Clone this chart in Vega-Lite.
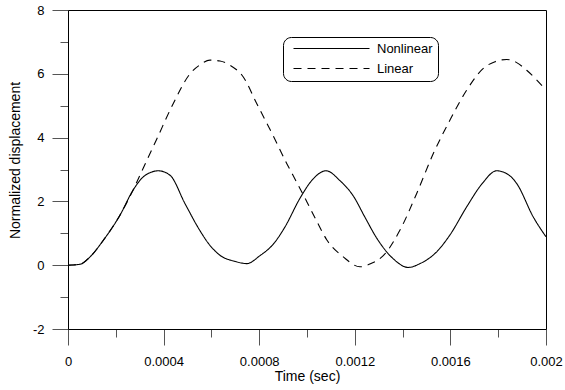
{
  "$schema": "https://vega.github.io/schema/vega-lite/v6.json",
  "width": 478,
  "height": 319,
  "autosize": {"type": "none"},
  "padding": {"left": 68, "top": 10, "right": 19, "bottom": 61},
  "background": "white",
  "config": {
    "view": {"stroke": "black", "strokeWidth": 1},
    "font": "Liberation Sans"
  },
  "data": {
    "values": [
      {"t": 0, "v": 0, "s": "Nonlinear"},
      {"t": 0.0000502, "v": 0.03, "s": "Nonlinear"},
      {"t": 0.0000921, "v": 0.26, "s": "Nonlinear"},
      {"t": 0.0001477, "v": 0.78, "s": "Nonlinear"},
      {"t": 0.0002176, "v": 1.57, "s": "Nonlinear"},
      {"t": 0.000272, "v": 2.35, "s": "Nonlinear"},
      {"t": 0.0003138, "v": 2.76, "s": "Nonlinear"},
      {"t": 0.0003431, "v": 2.9, "s": "Nonlinear"},
      {"t": 0.0003778, "v": 2.96, "s": "Nonlinear"},
      {"t": 0.0004268, "v": 2.82, "s": "Nonlinear"},
      {"t": 0.0004895, "v": 1.93, "s": "Nonlinear"},
      {"t": 0.0005523, "v": 1.08, "s": "Nonlinear"},
      {"t": 0.0005858, "v": 0.7, "s": "Nonlinear"},
      {"t": 0.000636, "v": 0.31, "s": "Nonlinear"},
      {"t": 0.0006987, "v": 0.12, "s": "Nonlinear"},
      {"t": 0.0007477, "v": 0.05, "s": "Nonlinear"},
      {"t": 0.0008033, "v": 0.3, "s": "Nonlinear"},
      {"t": 0.000859, "v": 0.66, "s": "Nonlinear"},
      {"t": 0.0009079, "v": 1.2, "s": "Nonlinear"},
      {"t": 0.0009707, "v": 2.1, "s": "Nonlinear"},
      {"t": 0.001025, "v": 2.7, "s": "Nonlinear"},
      {"t": 0.0010795, "v": 2.96, "s": "Nonlinear"},
      {"t": 0.001138, "v": 2.65, "s": "Nonlinear"},
      {"t": 0.0011937, "v": 2.17, "s": "Nonlinear"},
      {"t": 0.0012427, "v": 1.5, "s": "Nonlinear"},
      {"t": 0.0012916, "v": 0.85, "s": "Nonlinear"},
      {"t": 0.0013611, "v": 0.2, "s": "Nonlinear"},
      {"t": 0.0014238, "v": -0.07, "s": "Nonlinear"},
      {"t": 0.0014728, "v": 0.05, "s": "Nonlinear"},
      {"t": 0.0015427, "v": 0.42, "s": "Nonlinear"},
      {"t": 0.0015983, "v": 0.95, "s": "Nonlinear"},
      {"t": 0.0016682, "v": 1.83, "s": "Nonlinear"},
      {"t": 0.0017322, "v": 2.55, "s": "Nonlinear"},
      {"t": 0.0017937, "v": 2.96, "s": "Nonlinear"},
      {"t": 0.0018494, "v": 2.8, "s": "Nonlinear"},
      {"t": 0.0018774, "v": 2.56, "s": "Nonlinear"},
      {"t": 0.0019469, "v": 1.51, "s": "Nonlinear"},
      {"t": 0.002, "v": 0.89, "s": "Nonlinear"},
      {"t": 0, "v": 0, "s": "Linear"},
      {"t": 0.0000502, "v": 0.03, "s": "Linear"},
      {"t": 0.0000921, "v": 0.26, "s": "Linear"},
      {"t": 0.0001477, "v": 0.78, "s": "Linear"},
      {"t": 0.0002176, "v": 1.57, "s": "Linear"},
      {"t": 0.000272, "v": 2.35, "s": "Linear"},
      {"t": 0.0003151, "v": 3.05, "s": "Linear"},
      {"t": 0.0003711, "v": 3.95, "s": "Linear"},
      {"t": 0.0004406, "v": 5.07, "s": "Linear"},
      {"t": 0.0005105, "v": 6.0, "s": "Linear"},
      {"t": 0.0005523, "v": 6.28, "s": "Linear"},
      {"t": 0.0005941, "v": 6.43, "s": "Linear"},
      {"t": 0.000636, "v": 6.4, "s": "Linear"},
      {"t": 0.0006778, "v": 6.27, "s": "Linear"},
      {"t": 0.0007335, "v": 5.9, "s": "Linear"},
      {"t": 0.0007895, "v": 5.07, "s": "Linear"},
      {"t": 0.000859, "v": 4.05, "s": "Linear"},
      {"t": 0.0009151, "v": 3.19, "s": "Linear"},
      {"t": 0.0009569, "v": 2.6, "s": "Linear"},
      {"t": 0.0009987, "v": 2.0, "s": "Linear"},
      {"t": 0.0010406, "v": 1.38, "s": "Linear"},
      {"t": 0.0010824, "v": 0.8, "s": "Linear"},
      {"t": 0.0011519, "v": 0.26, "s": "Linear"},
      {"t": 0.0012218, "v": -0.05, "s": "Linear"},
      {"t": 0.0012678, "v": 0.05, "s": "Linear"},
      {"t": 0.0013192, "v": 0.3, "s": "Linear"},
      {"t": 0.0013891, "v": 1.1, "s": "Linear"},
      {"t": 0.001459, "v": 2.25, "s": "Linear"},
      {"t": 0.0015285, "v": 3.5, "s": "Linear"},
      {"t": 0.0015983, "v": 4.55, "s": "Linear"},
      {"t": 0.0016682, "v": 5.49, "s": "Linear"},
      {"t": 0.0017377, "v": 6.17, "s": "Linear"},
      {"t": 0.0017866, "v": 6.38, "s": "Linear"},
      {"t": 0.0018356, "v": 6.45, "s": "Linear"},
      {"t": 0.0018774, "v": 6.35, "s": "Linear"},
      {"t": 0.0019192, "v": 6.11, "s": "Linear"},
      {"t": 0.002, "v": 5.49, "s": "Linear"}
    ]
  },
  "mark": {"type": "line", "color": "black", "strokeWidth": 1.1, "interpolate": "monotone", "clip": true},
  "encoding": {
    "x": {
      "field": "t", "type": "quantitative",
      "scale": {"domain": [0, 0.002], "nice": false, "zero": false},
      "axis": {
        "title": "Time (sec)",
        "values": [0, 0.0002, 0.0004, 0.0006, 0.0008, 0.001, 0.0012, 0.0014, 0.0016, 0.0018, 0.002],
        "grid": false,
        "domainColor": "black",
        "tickColor": "#555",
        "tickSize": {"condition": {"test": "abs(datum.value/0.0004 - round(datum.value/0.0004)) < 0.01", "value": 16}, "value": 8},
        "labelExpr": "abs(datum.value/0.0004 - round(datum.value/0.0004)) < 0.01 ? format(datum.value, '~g') : ''",
        "labelFlush": false,
        "labelOverlap": false,
        "labelFontSize": 13,
        "labelColor": "black",
        "labelPadding": 10,
        "titleFontSize": 14,
        "titleFontWeight": "normal",
        "titleColor": "black",
        "titlePadding": 1
      }
    },
    "y": {
      "field": "v", "type": "quantitative",
      "scale": {"domain": [-2, 8], "nice": false, "zero": false},
      "axis": {
        "title": "Normalized displacement",
        "titleY": 150,
        "values": [-2, -1, 0, 1, 2, 3, 4, 5, 6, 7, 8],
        "grid": false,
        "domainColor": "black",
        "tickColor": "#555",
        "tickSize": {"condition": {"test": "datum.value % 2 == 0", "value": 16}, "value": 8},
        "labelExpr": "datum.value % 2 == 0 ? '' + datum.value : ''",
        "labelOverlap": false,
        "labelFontSize": 13,
        "labelColor": "black",
        "labelPadding": 8,
        "titleFontSize": 14,
        "titleFontWeight": "normal",
        "titleColor": "black",
        "titlePadding": 10
      }
    },
    "strokeDash": {
      "field": "s", "type": "nominal",
      "scale": {"domain": ["Nonlinear", "Linear"], "range": [[1, 0], [8, 6]]},
      "legend": {
        "title": null,
        "orient": "none",
        "legendX": 215,
        "legendY": 27,
        "strokeColor": "black",
        "fillColor": "white",
        "cornerRadius": 8,
        "padding": 5,
        "rowPadding": 6,
        "labelFontSize": 13,
        "labelColor": "black",
        "symbolType": "M-0.2,0H15",
        "symbolSize": 100,
        "symbolStrokeColor": "black",
        "symbolStrokeWidth": 1.1,
        "labelOffset": 76
      }
    }
  }
}
